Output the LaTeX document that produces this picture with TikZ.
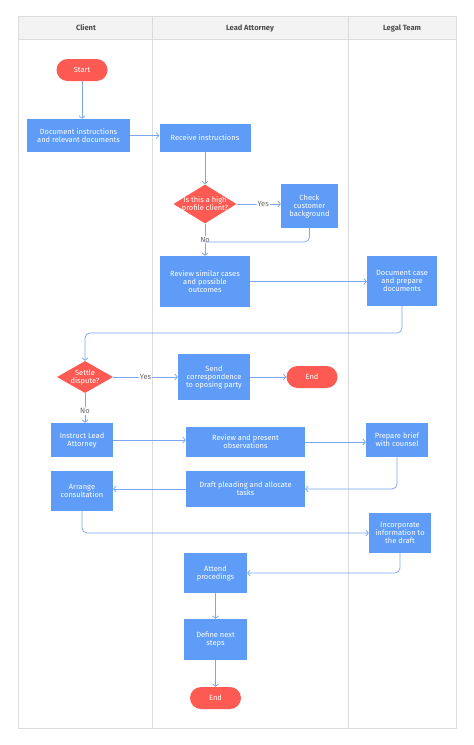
\documentclass[tikz,border=0pt]{standalone}
\usepackage{fontspec}
\setmainfont{Fira Sans}
\usetikzlibrary{shapes.geometric,arrows.meta}
\definecolor{boxblue}{HTML}{5E9CF8}
\definecolor{termred}{HTML}{FC5A52}
\definecolor{flowblue}{HTML}{7DA6EE}
\definecolor{lanegray}{HTML}{DCDCDC}
\definecolor{headgray}{HTML}{F3F3F3}
\tikzset{
  box/.style={fill=boxblue, text=white, align=center, inner sep=1pt, font=\fontsize{7.5}{8}\selectfont},
  term/.style={box, fill=termred, rounded corners=11pt, minimum width=51pt, minimum height=22pt},
  decide/.style={box, fill=termred, diamond, inner sep=0pt, shape aspect=1.6},
  flow/.style={draw=flowblue, line width=0.75pt, -{Straight Barb[length=2.5pt,width=6pt]}, rounded corners=5pt},
  answer/.style={fill=white, text=black!60, font=\fontsize{7.5}{8}\selectfont, inner sep=1pt},
  lanehead/.style={text=black!70, font=\fontsize{7.5}{8}\selectfont\bfseries},
}
\begin{document}
\begin{tikzpicture}[x=1pt,y=-1pt]
  \useasboundingbox (0,0) rectangle (474,745);
  % swimlanes
  \fill[headgray] (18,16) rectangle (456,39);
  \draw[lanegray,line width=0.6pt] (18,16) rectangle (456,728);
  \draw[lanegray,line width=0.6pt] (18,39) -- (456,39);
  \draw[lanegray,line width=0.6pt] (152,16) -- (152,728);
  \draw[lanegray,line width=0.6pt] (348,16) -- (348,728);
  \node[lanehead] (client) at (86,28) {Client};
  \node[lanehead] (lead) at (250,28) {Lead Attorney};
  \node[lanehead] (team) at (402,28) {Legal Team};

  % steps
  \node[term] (start) at (82,70) {Start};
  \node[box, minimum width=103pt, minimum height=33pt] (docinstr) at (78.5,135.5) {Document instructions\\and relevant documents};
  \node[box, minimum width=91pt, minimum height=28pt] (receive) at (205,138) {Receive instructions};
  \node[decide, minimum width=63pt, minimum height=39pt] (highprof) at (205,204) {\makebox[0pt]{Is this a high}\\\makebox[0pt]{profile client?}};
  \node[box, minimum width=57pt, minimum height=44pt] (check) at (309.5,206) {Check\\customer\\background};
  \node[box, minimum width=90pt, minimum height=51pt] (review) at (205,281.5) {Review similar cases\\and possible\\outcomes};
  \node[box, minimum width=70pt, minimum height=50pt] (doccase) at (402,281) {Document case\\and prepare\\documents};
  \node[decide, minimum width=56pt, minimum height=32pt] (settle) at (85,377) {\makebox[0pt]{Settle}\\\makebox[0pt]{dispute?}};
  \node[box, minimum width=72pt, minimum height=46pt] (send) at (214,377) {Send\\correspondence\\to oposing party};
  \node[term] (end1) at (312,377) {End};
  \node[box, minimum width=62pt, minimum height=34pt] (instruct) at (82,440) {Instruct Lead\\Attorney};
  \node[box, minimum width=119pt, minimum height=30pt] (present) at (245.5,442) {Review and present\\observations};
  \node[box, minimum width=62pt, minimum height=34pt] (brief) at (397,440) {Prepare brief\\with counsel};
  \node[box, minimum width=119pt, minimum height=36pt] (draft) at (245.5,489) {Draft pleading and allocate\\tasks};
  \node[box, minimum width=62pt, minimum height=40pt] (arrange) at (82,491) {Arrange\\consultation};
  \node[box, minimum width=62pt, minimum height=40pt] (incorp) at (400,533) {Incorporate\\information to\\the draft};
  \node[box, minimum width=63pt, minimum height=40pt] (attend) at (215.5,573) {Attend\\procedings};
  \node[box, minimum width=63pt, minimum height=41pt] (define) at (215.5,639.5) {Define next\\steps};
  \node[term] (end2) at (215.5,698) {End};

  % connectors
  \coordinate (nojoin) at (205,242);
  \coordinate (loopback) at (85,333);
  \draw[flow] (start) -- (start |- docinstr.north);
  \draw[flow] (docinstr) -- (docinstr -| receive.west);
  \draw[flow] (receive) -- (highprof);
  \draw[flow] (highprof) -- node[answer,pos=0.6] (yes1) {Yes} (highprof -| check.west);
  \draw[flow] (highprof) -- node[answer] (no1) {No} (review);
  \draw[flow,-] (check.south) |- (nojoin);
  \draw[flow] (review) -- (review -| doccase.west);
  \draw[flow] (doccase.south) |- (loopback) -- (settle.north);
  \draw[flow] (settle) -- node[answer] (yes2) {Yes} (send);
  \draw[flow] (send) -- (end1);
  \draw[flow] (settle.south) -- node[answer,pos=0.6] (no2) {No} (settle.south |- instruct.north);
  \draw[flow] (instruct) -- (instruct -| present.west);
  \draw[flow] (present) -- (present -| brief.west);
  \draw[flow] (brief.south) |- (draft.east);
  \draw[flow] (draft) -- (draft -| arrange.east);
  \draw[flow] (arrange.south) |- (incorp.west);
  \draw[flow] (incorp.south) |- (attend.east);
  \draw[flow] (attend) -- (define);
  \draw[flow] (define) -- (end2);
\end{tikzpicture}
\end{document}
